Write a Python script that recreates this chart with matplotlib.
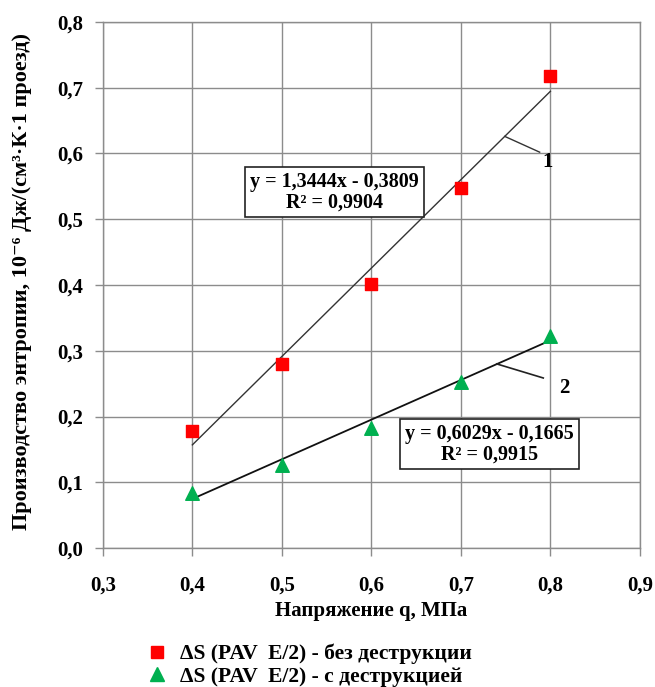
import numpy as np
import matplotlib
matplotlib.use("Agg")
import matplotlib.pyplot as plt
from matplotlib.lines import Line2D

plt.rcParams['font.family'] = ['Liberation Serif', 'DejaVu Serif']
plt.rcParams['font.weight'] = 'bold'

# data
q = [0.4, 0.5, 0.6, 0.7, 0.8]
ds_no_destr = [0.178, 0.280, 0.402, 0.548, 0.718]
ds_destr = [0.083, 0.127, 0.183, 0.253, 0.322]

# trend line coefficients (slope, intercept) as printed on the chart
trend1 = [1.3444, -0.3809]
trend2 = [0.6029, -0.1665]
eq1 = "y = 1,3444x - 0,3809\nR² = 0,9904"
eq2 = "y = 0,6029x - 0,1665\nR² = 0,9915"

xticks = [0.3, 0.4, 0.5, 0.6, 0.7, 0.8, 0.9]
yticks = [0.0, 0.1, 0.2, 0.3, 0.4, 0.5, 0.6, 0.7, 0.8]

fig = plt.figure(figsize=(6.55, 6.87), dpi=100)
ax = fig.add_axes([0.157, 0.2023, 0.820, 0.7657])

red = '#FF0000'
green = '#00B050'
grid_col = '#8C8C8C'

ax.set_xlim(0.3, 0.9)
ax.set_ylim(0.0, 0.8)
ax.set_xticks(xticks)
ax.set_yticks(yticks)
ax.set_xticklabels([f"{v:.1f}".replace('.', ',') for v in xticks])
ax.set_yticklabels([f"{v:.1f}".replace('.', ',') for v in yticks])
ax.tick_params(axis='both', labelsize=15, color=grid_col, length=6, width=1)
ax.tick_params(axis='y', pad=8)
ax.tick_params(axis='x', pad=14)
ax.grid(True, color=grid_col, linewidth=1)
ax.set_axisbelow(True)
for s in ax.spines.values():
    s.set_color(grid_col)
    s.set_linewidth(1)

# trend lines
xl = np.array([q[0], q[-1]])
ax.plot(xl, trend1[0] * xl + trend1[1], color='#333333', lw=1, zorder=2)
ax.plot(xl, trend2[0] * xl + trend2[1], color='#111111', lw=1.3, zorder=2)

ax.scatter(q, ds_no_destr, marker='s', s=70, color=red, zorder=3)
ax.scatter(q, ds_destr, marker='^', s=95, color=green, zorder=3)

# leaders and labels
ax.plot([0.749, 0.788], [0.626, 0.602], color='#333333', lw=1)
ax.text(0.797, 0.587, "1", fontsize=15, ha='center', va='center')
ax.plot([0.740, 0.792], [0.280, 0.2586], color='#222222', lw=1.2)
ax.text(0.816, 0.243, "2", fontsize=15, ha='center', va='center')

box = dict(boxstyle='square,pad=0.25', fc='white', ec='#222222', lw=1.2)
ax.text(0.559, 0.541, eq1, fontsize=14.5, ha='center', va='center',
        linespacing=1.0, bbox=box, zorder=4)
ax.text(0.732, 0.158, eq2, fontsize=14.5, ha='center', va='center',
        linespacing=1.0, bbox=box, zorder=4)

ax.set_xlabel("Напряжение q, МПа", fontsize=15, fontweight='bold', labelpad=4)
fig.text(0.033, 0.59, "Производство энтропии, 10⁻⁶ Дж/(см³·К·1 проезд)",
         rotation=90, fontsize=16, ha='center', va='center')

handles = [
    Line2D([], [], ls='none', marker='s', ms=8, color=red),
    Line2D([], [], ls='none', marker='^', ms=10, color=green),
]
labels = ["ΔS (PAV  E/2) - без деструкции", "ΔS (PAV  E/2) - с деструкцией"]
fig.legend(handles, labels, loc='center', bbox_to_anchor=(0.47, 0.0315),
           frameon=False, fontsize=15.5, handletextpad=0.5, labelspacing=0.1,
           handlelength=1.2)

fig.savefig("out.png", dpi=100)
